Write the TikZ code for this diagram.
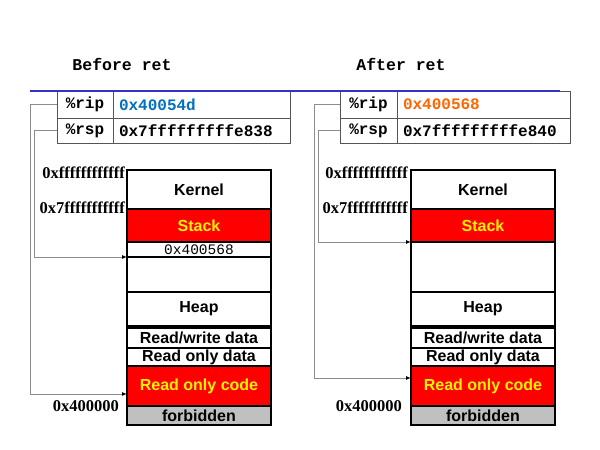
\documentclass[tikz,border=0pt]{standalone}
\usepackage{fontspec}
\setmainfont{Liberation Serif}
\newfontfamily\arialf{Liberation Sans}
\newfontfamily\courf{Liberation Mono}
\usetikzlibrary{arrows.meta}
\definecolor{bluev}{HTML}{0070C0}
\definecolor{orangev}{HTML}{FF6600}
\definecolor{rulebl}{HTML}{3333CC}
\definecolor{connc}{HTML}{8C8C8C}
\definecolor{tabc}{HTML}{555555}
\definecolor{forbc}{HTML}{C0C0C0}
\tikzset{
  region/.style={draw=black, line width=1.3pt, inner sep=0pt, outer sep=0pt, minimum width=144pt,
    font=\arialf\bfseries\fontsize{16}{16}\selectfont},
  redregion/.style={region, fill=red, text=yellow},
  cell/.style={draw=tabc, line width=0.9pt, inner sep=0pt, outer sep=0pt,
    font=\courf\bfseries\fontsize{16}{16}\selectfont},
  valcell/.style={cell, inner xsep=6pt, align=left},
  title/.style={font=\courf\bfseries\fontsize{16.5}{16.5}\selectfont},
  addr/.style={anchor=east, inner sep=0pt, font=\bfseries\fontsize{16.5}{16.5}\selectfont},
  conn/.style={draw=connc, line width=1pt, -{Latex[length=5pt,width=4pt,black]}},
}
\begin{document}
\begin{tikzpicture}[x=1pt,y=-1pt]
\useasboundingbox (0,0) rectangle (600,450);

% ---------- titles ----------
\node[title] (tL) at (122,64) {Before ret};
\node[title] (tR) at (401,64) {After ret};

% ---------- left register table ----------
\node[cell, minimum width=56pt, minimum height=27pt] (ripnL) at (85,104.5) {\%rip};
\node[valcell, text width=165pt, minimum height=27pt, text=bluev] (ripvL) at (201.5,104.5) {0x40054d};
\node[cell, minimum width=56pt, minimum height=25pt] (rspnL) at (85,130.5) {\%rsp};
\node[valcell, text width=165pt, minimum height=25pt] (rspvL) at (201.5,130.5) {0x7fffffffffe838};

% ---------- right register table ----------
\node[cell, minimum width=57pt, minimum height=27pt] (ripnR) at (368.5,104.5) {\%rip};
\node[valcell, text width=161pt, minimum height=27pt, text=orangev] (ripvR) at (483.5,104.5) {0x400568};
\node[cell, minimum width=57pt, minimum height=25pt] (rspnR) at (368.5,130.5) {\%rsp};
\node[valcell, text width=161pt, minimum height=25pt] (rspvR) at (483.5,130.5) {0x7fffffffffe840};

% ---------- left memory ----------
\node[region, minimum height=39pt] (kernL) at (199,189.5) {Kernel};
\node[redregion, minimum height=33pt] (stackL) at (199,225.5) {Stack};
\node[region, minimum height=15pt, font=\courf\fontsize{14.5}{14.5}\selectfont] (retL) at (199,249.5) {0x400568};
\node[region, minimum height=35pt] (gapL) at (199,274.5) {};
\node[region, minimum height=34pt] (heapL) at (199,309) {Heap};
\node[region, minimum height=20pt] (rwL) at (199,338) {Read/write data};
\node[region, minimum height=18pt] (rodL) at (199,357) {Read only data};
\node[redregion, minimum height=40pt] (rocL) at (199,386) {Read only code};
\node[region, minimum height=19pt, fill=forbc] (forbL) at (199,415.5) {forbidden};

\node[addr] (a1L) at (125,173) {0xffffffffffff};
\node[addr] (a2L) at (125,208) {0x7fffffffffff};
\node[addr] (a3L) at (119,406) {0x400000};

% ---------- right memory ----------
\node[region, minimum height=39pt] (kernR) at (483,189.5) {Kernel};
\node[redregion, minimum height=33pt] (stackR) at (483,225.5) {Stack};
\node[region, minimum height=50pt] (gapR) at (483,267) {};
\node[region, minimum height=34pt] (heapR) at (483,309) {Heap};
\node[region, minimum height=20pt] (rwR) at (483,338) {Read/write data};
\node[region, minimum height=18pt] (rodR) at (483,357) {Read only data};
\node[redregion, minimum height=40pt] (rocR) at (483,386) {Read only code};
\node[region, minimum height=19pt, fill=forbc] (forbR) at (483,415.5) {forbidden};

\node[addr] (a1R) at (408,173) {0xffffffffffff};
\node[addr] (a2R) at (408,208) {0x7fffffffffff};
\node[addr] (a3R) at (402,406) {0x400000};

% ---------- connectors ----------
\coordinate (ripTL) at (127,394);
\coordinate (rspTL) at (127,257);
\coordinate (ripTR) at (411,378);
\coordinate (rspTR) at (411,242);
\draw[conn] (ripnL.west) -- (30.5,104.5) -- (30.5,394) -- (ripTL);
\draw[conn] (rspnL.west) -- (34.5,130.5) -- (34.5,257) -- (rspTL);
\draw[conn] (ripnR.west) -- (314.5,104.5) -- (314.5,378) -- (ripTR);
\draw[conn] (rspnR.west) -- (318.5,130.5) -- (318.5,242) -- (rspTR);

% ---------- blue rule ----------
\coordinate (ruleA) at (30,90.5);
\coordinate (ruleB) at (560,90.5);
\draw[rulebl, line width=2pt] (ruleA) -- (ruleB);
\end{tikzpicture}
\end{document}
